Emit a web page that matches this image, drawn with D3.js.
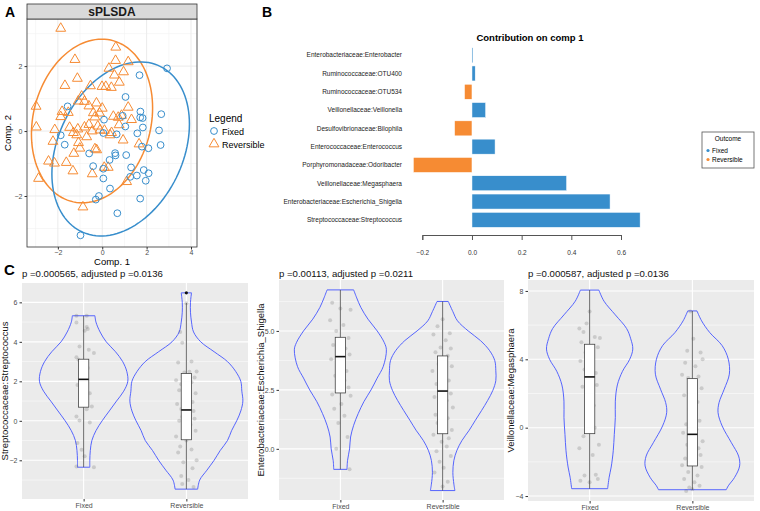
<!DOCTYPE html>
<html>
<head>
<meta charset="utf-8">
<script src="https://cdn.jsdelivr.net/npm/d3@7"></script>
<style>
  body { margin: 0; background: #fff; }
  svg { font-family: "Liberation Sans", Arial, sans-serif; }
</style>
</head>
<body>
<svg id="fig" width="760" height="511"></svg>
<script>
// ---------- data: panel A (sPLSDA scores) ----------
const scoresFixed = [
  [2.92, 1.93], [1.68, 1.72], [1.05, 1.05], [-1.56, 0.76], [1.72, 0.60], [2.66, 0.52],
  [0.08, 0.35], [0.92, 0.47], [1.71, 0.42], [1.82, 0.40], [1.04, 0.14], [1.83, 0.11],
  [2.56, 0.02], [-1.87, -0.13], [0.05, -0.06], [0.65, -0.10], [1.58, -0.07], [-1.69, -0.42],
  [1.79, -0.48], [2.08, -0.53], [2.63, -0.43], [-0.59, -0.69], [0.58, -0.68], [0.60, -0.75],
  [1.08, -0.74], [0.33, -0.89], [-0.41, -1.08], [0.05, -1.16], [1.30, -1.12], [1.87, -1.20],
  [2.09, -1.30], [1.56, -1.37], [1.26, -1.41], [1.96, -1.53], [0.05, -1.46], [0.35, -1.77],
  [-0.15, -2.0], [-0.29, -2.11], [1.71, -2.08], [0.68, -2.53], [-0.98, -3.21]
];
const scoresReversible = [
  [-1.87, 3.16], [0.61, 2.58], [-1.23, 2.20], [0.60, 2.17], [1.17, 2.13], [0.30, 1.93],
  [0.96, 1.82], [-1.12, 1.62], [0.55, 1.72], [0.77, 1.50], [-1.68, 1.40], [-0.53, 1.39],
  [-0.01, 1.37], [0.16, 1.37], [0.41, 1.34], [-0.93, 1.07], [-1.08, 0.92], [-0.80, 0.91],
  [-0.26, 0.86], [-0.60, 0.77], [-2.98, 0.76], [1.17, 0.73], [-0.40, 0.56], [-1.81, 0.60],
  [-1.53, 0.57], [-0.33, 0.43], [0.72, 0.42], [0.87, 0.48], [1.32, 0.35], [-1.87, 0.44],
  [-2.97, 0.12], [-1.47, 0.11], [-1.10, 0.06], [-0.80, 0.12], [-2.14, 0.04], [-0.20, 0.15],
  [0.10, 0.02], [0.76, 0.19], [0.42, -0.05], [-0.10, 0.03], [-0.45, 0.00], [-2.22, -0.32],
  [-1.15, -0.12], [-0.70, -0.18], [0.35, -0.12], [0.94, -0.28], [-1.07, -0.36], [-1.01, -0.53],
  [-0.33, -0.55], [-0.25, -0.58], [-1.28, -0.69], [1.66, -0.40], [-2.42, -0.93], [-2.15, -0.99],
  [-1.62, -0.97], [-1.32, -1.23], [-0.45, -1.32], [0.09, -1.12], [0.27, -1.12], [-2.87, -1.46],
  [1.10, -1.56], [-0.87, -2.34], [-0.60, 0.20], [-1.30, -0.05], [0.50, 0.45], [0.00, 0.70],
  [-0.12, 0.55]
];
// confidence ellipses: centre x, centre y, var x, cov xy, var y
const ellipseFixed = [0.83, -0.55, 9.6, 2.38, 7.18];
const ellipseReversible = [-0.46, 0.31, 7.45, 1.1, 6.35];
const ticksA = [-2, 0, 2, 4];
const ticksAy = [-2, 0, 2];

// ---------- data: panel B (loadings) ----------
const taxa = [
  'Enterobacteriaceae:Enterobacter', 'Ruminococcaceae:OTU400', 'Ruminococcaceae:OTU534',
  'Veillonellaceae:Veillonella', 'Desulfovibrionaceae:Bilophila', 'Enterococcaceae:Enterococcus',
  'Porphyromonadaceae:Odoribacter', 'Veillonellaceae:Megasphaera',
  'Enterobacteriaceae:Escherichia_Shigella', 'Streptococcaceae:Streptococcus'
];
const loadings = [0.004, 0.013, -0.03, 0.055, -0.07, 0.093, -0.236, 0.381, 0.556, 0.677];
const loadingGroup = ['Fixed', 'Fixed', 'Reversible', 'Fixed', 'Reversible', 'Fixed',
  'Reversible', 'Fixed', 'Fixed', 'Fixed'];
const ticksB = [-0.2, 0, 0.2, 0.4, 0.6];

// ---------- data: panel C (violins) ----------
const groups = ['Fixed', 'Reversible'];
const violinTitles = [
  'p =0.000565, adjusted p =0.0136',
  'p =0.00113, adjusted p =0.0211',
  'p =0.000587, adjusted p =0.0136'
];
const violinYLabels = [
  'Streptococcaceae:Streptococcus',
  'Enterobacteriaceae:Escherichia_Shigella',
  'Veillonellaceae:Megasphaera'
];
// density outline: [value, half width in category units]
const strepFixedShape = [[-2.35, 0.06], [-2, 0.06], [-1.5, 0.065], [-1, 0.08], [-0.5, 0.12], [0, 0.18],
  [0.5, 0.25], [1, 0.32], [1.5, 0.39], [2, 0.43], [2.5, 0.42], [3, 0.38], [3.5, 0.31], [4, 0.22],
  [4.5, 0.16], [5, 0.12], [5.32, 0.11]];
const strepRevShape = [[-3.46, 0.11], [-3, 0.13], [-2.5, 0.2], [-2, 0.27], [-1.5, 0.33], [-1, 0.4],
  [-0.5, 0.44], [0, 0.49], [0.5, 0.53], [1, 0.55], [1.5, 0.54], [2, 0.53], [2.5, 0.48], [3, 0.4],
  [3.5, 0.27], [4, 0.14], [4.5, 0.07], [5, 0.05], [5.5, 0.04], [6, 0.04], [6.48, 0.05]];
const escFixedShape = [[-0.87, 0.065], [-0.5, 0.07], [0, 0.09], [0.5, 0.1], [1, 0.13], [1.5, 0.175],
  [2, 0.23], [2.5, 0.3], [3, 0.36], [3.5, 0.42], [4.2, 0.45], [4.5, 0.43], [5, 0.36], [5.5, 0.27],
  [6, 0.2], [6.4, 0.16], [6.74, 0.13]];
const escRevShape = [[-1.77, 0.12], [-1.5, 0.11], [-1, 0.1], [-0.49, 0.11], [-0.06, 0.14], [0.36, 0.19],
  [0.79, 0.26], [1.21, 0.32], [1.62, 0.38], [2.05, 0.44], [2.47, 0.49], [2.89, 0.52], [3.31, 0.52],
  [3.74, 0.51], [4.16, 0.46], [4.59, 0.37], [5, 0.25], [5.43, 0.145], [5.82, 0.1], [6.25, 0.055]];
const megFixedShape = [[-3.57, 0.175], [-2.9, 0.19], [-2.3, 0.21], [-1.35, 0.23], [-0.4, 0.24],
  [0.6, 0.25], [1.55, 0.25], [2.5, 0.27], [3.3, 0.32], [4, 0.39], [4.6, 0.42], [5.2, 0.4],
  [5.8, 0.36], [6.6, 0.25], [7.4, 0.14], [8.05, 0.09]];
const megRevShape = [[-3.63, 0.33], [-3.4, 0.35], [-2.92, 0.41], [-2.24, 0.46], [-1.66, 0.45],
  [-0.88, 0.38], [0.1, 0.29], [0.88, 0.25], [1.47, 0.26], [2.25, 0.31], [3.13, 0.36], [4, 0.35],
  [4.8, 0.29], [5.56, 0.17], [6.25, 0.09], [6.83, 0.045]];
// boxplot stats: [lower whisker, q1, median, q3, upper whisker]
const strepBox = [[-2.35, 0.69, 2.1, 3.12, 5.32], [-3.46, -0.96, 0.55, 2.4, 5.97]];
const escBox = [[-0.87, 2.37, 3.91, 4.73, 6.74], [-1.77, 0.64, 2.45, 3.94, 6.25]];
const megBox = [[-3.57, -0.35, 2.97, 4.88, 8.05], [-3.63, -2.24, -0.39, 2.87, 6.83]];
const strepOutliers = [[], [6.48]];
const escOutliers = [[], []];
const megOutliers = [[], []];
// jittered observations: [offset in category units, value]
const strepFixedPts = [[-0.07, 5.32], [0.03, 5.32], [-0.07, 4.98], [0.03, 4.75], [0.04, 4.65], [0.01, 4.56],
  [0.10, 3.43], [-0.07, 3.22], [-0.05, 3.09], [-0.01, 2.96], [0.04, 2.67], [-0.03, 2.33], [0.03, 2.16],
  [-0.01, 1.91], [-0.06, 1.82], [0.06, 1.40], [0, 1.15], [-0.03, 0.9], [0.08, 0.73], [0.03, 0.59],
  [-0.07, 0.22], [-0.04, 0.02], [0.06, -0.08], [-0.06, -1.13], [-0.02, -1.47], [0.01, -1.8],
  [-0.07, -2.31], [0.10, -2.35], [0.05, 3.6], [-0.04, 3.77], [0, 2.75]];
const strepRevPts = [[0.00, 5.96], [-0.06, 4.5], [-0.04, 3.95], [0.05, 3.0], [-0.08, 2.95], [0.1, 2.5],
  [0.03, 2.48], [-0.02, 2.45], [0.08, 2.2], [-0.1, 2.05], [0.05, 1.95], [-0.05, 1.85], [0.02, 1.6],
  [-0.07, 1.55], [0.09, 1.4], [0.0, 1.3], [-0.03, 1.1], [0.06, 0.95], [-0.09, 0.85], [0.03, 0.7],
  [-0.05, 0.6], [0.07, 0.5], [0.01, 0.35], [-0.04, 0.2], [0.08, 0.1], [-0.07, 0.0], [0.04, -0.2],
  [-0.02, -0.3], [0.09, -0.5], [-0.1, -0.8], [0.0, -1.0], [-0.06, -1.3], [0.05, -1.45], [-0.08, -1.6],
  [0.1, -2.0], [-0.03, -2.1], [0.06, -2.4], [-0.05, -2.8], [0.02, -3.0], [-0.04, -3.2], [0.07, -3.35]];
const escFixedPts = [[-0.08, 6.2], [0.0, 5.95], [0.1, 5.9], [-0.1, 5.45], [0.03, 5.25], [-0.04, 5.0],
  [0.08, 4.7], [-0.07, 4.4], [0.05, 4.25], [-0.02, 4.1], [0.09, 4.0], [-0.09, 3.8], [0.02, 3.6],
  [0.06, 3.3], [-0.05, 3.1], [0.04, 2.9], [-0.03, 2.75], [0.08, 2.6], [-0.08, 2.3], [0.1, 2.25],
  [0.01, 1.9], [-0.06, 1.7], [0.04, 1.4], [-0.02, 1.1], [0.07, 0.5], [-0.04, 0.0], [0.09, -0.87]];
const escRevPts = [[0.0, 5.5], [-0.05, 5.2], [0.07, 4.9], [-0.09, 4.85], [0.03, 4.6], [-0.02, 4.3],
  [0.08, 4.25], [-0.07, 4.1], [0.05, 3.95], [0.0, 3.8], [-0.04, 3.6], [0.09, 3.5], [-0.1, 3.3],
  [0.02, 3.1], [0.06, 2.9], [-0.06, 2.75], [0.03, 2.6], [-0.02, 2.45], [0.08, 2.35], [-0.08, 2.2],
  [0.04, 2.05], [-0.03, 1.9], [0.1, 1.75], [0.0, 1.6], [-0.07, 1.45], [0.05, 1.3], [-0.05, 1.1],
  [0.02, 0.95], [0.09, 0.8], [-0.09, 0.6], [0.06, 0.45], [-0.01, 0.3], [0.04, 0.1], [-0.06, -0.1],
  [0.08, -0.3], [-0.03, -0.55], [0.01, -0.8], [-0.08, -1.0], [0.05, -1.4], [0.0, -1.6]];
const megFixedPts = [[0.0, 6.8], [-0.03, 6.1], [-0.1, 5.8], [-0.06, 5.6], [0.05, 5.3], [0.1, 5.25],
  [-0.08, 5.0], [0.03, 4.8], [0.08, 4.7], [-0.04, 4.4], [-0.09, 3.9], [0.02, 3.8], [-0.05, 3.4],
  [0.06, 3.2], [-0.02, 2.6], [0.07, 2.5], [-0.07, 2.4], [0.04, 1.3], [-0.03, 0.4], [0.05, 0.0],
  [-0.01, -0.05], [-0.06, -0.5], [0.09, -1.0], [-0.1, -1.2], [0.03, -1.6], [-0.05, -2.8],
  [0.06, -2.75], [0.08, -3.0], [-0.09, -3.1], [0.0, -3.2]];
const megRevPts = [[-0.02, 6.8], [0.01, 5.2], [-0.05, 4.5], [0.08, 4.4], [0.1, 4.0], [-0.07, 3.8],
  [0.03, 3.6], [-0.1, 3.1], [0.06, 3.0], [-0.04, 2.9], [0.02, 2.6], [0.09, 2.3], [-0.08, 1.9],
  [0.05, 1.5], [-0.03, 1.1], [0.0, 0.8], [0.07, 0.4], [-0.06, 0.2], [0.04, -0.1], [-0.09, -0.3],
  [0.01, -0.6], [0.1, -0.8], [-0.05, -1.0], [0.06, -1.2], [-0.02, -1.4], [0.08, -1.6], [-0.07, -1.8],
  [0.03, -2.0], [-0.1, -2.2], [0.09, -2.3], [-0.04, -2.6], [0.05, -2.8], [-0.08, -3.0], [0.02, -3.2],
  [0.07, -3.4], [-0.03, -3.5], [0.0, -3.6], [-0.06, -3.7]];
const violinTicks = [[-2, 0, 2, 4, 6], [0, 2.5, 5], [-4, 0, 4, 8]];
const violinMinor = [[-3, -1, 1, 3, 5], [-1.25, 1.25, 3.75, 6.25], [-2, 2, 6]];

const blue = '#388ECC', orange = '#F68B33';
const svg = d3.select('#fig');

// ================= Panel A =================
const xA = d3.scaleLinear().domain([-3.39, 4.27]).range([27, 197]);
const yA = d3.scaleLinear().domain([-3.57, 3.45]).range([247, 19]);
const gA = svg.append('g');

gA.append('rect').attr('x', 27).attr('y', 19).attr('width', 170).attr('height', 228).attr('fill', '#fff');
// grid
[-3, -1, 1, 3].forEach(v => gA.append('line').attr('x1', xA(v)).attr('x2', xA(v)).attr('y1', 19).attr('y2', 247)
  .attr('stroke', '#F2F2F2').attr('stroke-width', 0.6));
[-3, -1, 1, 3].forEach(v => gA.append('line').attr('y1', yA(v)).attr('y2', yA(v)).attr('x1', 27).attr('x2', 197)
  .attr('stroke', '#F2F2F2').attr('stroke-width', 0.6));
ticksA.forEach(v => gA.append('line').attr('x1', xA(v)).attr('x2', xA(v)).attr('y1', 19).attr('y2', 247)
  .attr('stroke', '#EBEBEB').attr('stroke-width', 1));
ticksAy.forEach(v => gA.append('line').attr('y1', yA(v)).attr('y2', yA(v)).attr('x1', 27).attr('x2', 197)
  .attr('stroke', '#EBEBEB').attr('stroke-width', 1));

// ellipses
function ellipsePath(e) {
  const l11 = Math.sqrt(e[2]), l21 = e[3] / l11, l22 = Math.sqrt(e[4] - l21 * l21);
  const pts = d3.range(0, 2 * Math.PI + 0.01, Math.PI / 60).map(t =>
    [xA(e[0] + l11 * Math.cos(t)), yA(e[1] + l21 * Math.cos(t) + l22 * Math.sin(t))]);
  return d3.line()(pts);
}
gA.append('path').attr('d', ellipsePath(ellipseReversible)).attr('fill', 'none')
  .attr('stroke', orange).attr('stroke-width', 1.5);
gA.append('path').attr('d', ellipsePath(ellipseFixed)).attr('fill', 'none')
  .attr('stroke', blue).attr('stroke-width', 1.5);

// points
const tri = d3.symbol().type(d3.symbolTriangle).size(42);
gA.selectAll('.rev').data(scoresReversible).enter().append('path')
  .attr('d', tri).attr('transform', d => `translate(${xA(d[0])},${yA(d[1])})`)
  .attr('fill', 'none').attr('stroke', orange).attr('stroke-width', 1);
gA.selectAll('.fix').data(scoresFixed).enter().append('circle')
  .attr('cx', d => xA(d[0])).attr('cy', d => yA(d[1])).attr('r', 3.4)
  .attr('fill', 'none').attr('stroke', blue).attr('stroke-width', 1);

gA.append('rect').attr('x', 27).attr('y', 19).attr('width', 170).attr('height', 228)
  .attr('fill', 'none').attr('stroke', '#333').attr('stroke-width', 0.8);
// strip
gA.append('rect').attr('x', 27).attr('y', 4).attr('width', 170).attr('height', 15)
  .attr('fill', '#D9D9D9').attr('stroke', '#333').attr('stroke-width', 0.8);
gA.append('text').attr('x', 112).attr('y', 16).attr('text-anchor', 'middle')
  .attr('font-size', 12).attr('font-weight', 'bold').attr('fill', '#1A1A1A').text('sPLSDA');

// axes
gA.append('g').attr('transform', 'translate(0,247)')
  .call(d3.axisBottom(xA).tickValues(ticksA).tickSize(2.5).tickPadding(1).tickFormat(d3.format('d')))
  .call(g => g.select('.domain').remove())
  .call(g => g.selectAll('line').attr('stroke', '#333'))
  .call(g => g.selectAll('text').attr('font-size', 7).attr('fill', '#4D4D4D').attr('font-family', 'Liberation Sans'));
gA.append('g').attr('transform', 'translate(27,0)')
  .call(d3.axisLeft(yA).tickValues(ticksAy).tickSize(2.5).tickPadding(2).tickFormat(d3.format('d')))
  .call(g => g.select('.domain').remove())
  .call(g => g.selectAll('line').attr('stroke', '#333'))
  .call(g => g.selectAll('text').attr('font-size', 7).attr('fill', '#4D4D4D').attr('font-family', 'Liberation Sans'));
gA.append('text').attr('x', 112).attr('y', 265).attr('text-anchor', 'middle').attr('font-size', 9.5).text('Comp. 1');
gA.append('text').attr('transform', 'translate(11,133) rotate(-90)').attr('text-anchor', 'middle')
  .attr('font-size', 9.5).text('Comp. 2');

// legend A
gA.append('text').attr('x', 209).attr('y', 122).attr('font-size', 10).text('Legend');
gA.append('circle').attr('cx', 214).attr('cy', 131).attr('r', 3.4).attr('fill', 'none').attr('stroke', blue);
gA.append('path').attr('d', tri).attr('transform', 'translate(214,144)').attr('fill', 'none').attr('stroke', orange);
gA.append('text').attr('x', 222).attr('y', 134.5).attr('font-size', 9).text('Fixed');
gA.append('text').attr('x', 222).attr('y', 147.5).attr('font-size', 9).text('Reversible');

svg.append('text').attr('x', 5).attr('y', 17).attr('font-size', 14).attr('font-weight', 'bold').text('A');

// ================= Panel B =================
const xB = d3.scaleLinear().domain([-0.2, 0.6]).range([422.3, 621]);
const yB = d3.scaleBand().domain(taxa).range([46, 229]).paddingInner(0.18).paddingOuter(0.09);
const gB = svg.append('g');

gB.selectAll('.bar').data(taxa).enter().append('rect')
  .attr('x', (d, i) => xB(Math.min(0, loadings[i])))
  .attr('y', d => yB(d))
  .attr('width', (d, i) => Math.abs(xB(loadings[i]) - xB(0)))
  .attr('height', yB.bandwidth())
  .attr('fill', (d, i) => loadingGroup[i] === 'Fixed' ? blue : orange)
  .attr('stroke', '#fff').attr('stroke-width', 0.5);

gB.selectAll('.lab').data(taxa).enter().append('text')
  .attr('x', 402).attr('y', d => yB(d) + yB.bandwidth() / 2 + 2.3)
  .attr('text-anchor', 'end').attr('font-size', 6.5).attr('fill', '#222').text(d => d);

gB.append('g').attr('transform', 'translate(0,235)')
  .call(d3.axisBottom(xB).tickValues(ticksB).tickSize(5).tickPadding(10).tickFormat(d3.format('.1f')))
  .call(g => g.select('.domain').attr('stroke', '#555'))
  .call(g => g.selectAll('line').attr('stroke', '#555'))
  .call(g => g.selectAll('text').attr('font-size', 6.5).attr('fill', '#333').attr('font-family', 'Liberation Sans'));

gB.append('text').attr('x', 530).attr('y', 41).attr('text-anchor', 'middle').attr('font-size', 9.5)
  .attr('font-weight', 'bold').text('Contribution on comp 1');

// legend B
gB.append('rect').attr('x', 702).attr('y', 132).attr('width', 52).attr('height', 36)
  .attr('fill', '#fff').attr('stroke', '#555').attr('stroke-width', 0.8);
gB.append('text').attr('x', 728).attr('y', 141).attr('text-anchor', 'middle').attr('font-size', 6.5).text('Outcome');
[['Fixed', blue, 150.5], ['Reversible', orange, 159.5]].forEach(([t, c, y]) => {
  gB.append('circle').attr('cx', 708).attr('cy', y).attr('r', 1.6).attr('fill', c);
  gB.append('text').attr('x', 712).attr('y', y + 2.3).attr('font-size', 6.5).text(t);
});

svg.append('text').attr('x', 262).attr('y', 17).attr('font-size', 14).attr('font-weight', 'bold').text('B');

// ================= Panel C =================
const violinPanels = [
  { x: [22, 248], y: [-3.96, 6.98], ybox: [499, 283], shapes: [strepFixedShape, strepRevShape],
    box: strepBox, out: strepOutliers, pts: [strepFixedPts, strepRevPts], fmt: d3.format('d'), lx: 8 },
  { x: [279, 504], y: [-2.17, 7.16], ybox: [500, 280], shapes: [escFixedShape, escRevShape],
    box: escBox, out: escOutliers, pts: [escFixedPts, escRevPts], fmt: d3.format('.1f'), lx: 264 },
  { x: [528, 754], y: [-4.29, 8.64], ybox: [501, 280], shapes: [megFixedShape, megRevShape],
    box: megBox, out: megOutliers, pts: [megFixedPts, megRevPts], fmt: d3.format('d'), lx: 514 }
];

violinPanels.forEach((p, k) => {
  const g = svg.append('g');
  const x = d3.scalePoint().domain(groups).range(p.x).padding(0.6);
  const step = x.step();
  const y = d3.scaleLinear().domain(p.y).range(p.ybox);
  const top = p.ybox[1], bot = p.ybox[0];

  g.append('rect').attr('x', p.x[0]).attr('y', top).attr('width', p.x[1] - p.x[0]).attr('height', bot - top)
    .attr('fill', '#EBEBEB');
  violinMinor[k].forEach(v => g.append('line').attr('x1', p.x[0]).attr('x2', p.x[1])
    .attr('y1', y(v)).attr('y2', y(v)).attr('stroke', '#fff').attr('stroke-width', 0.5));
  violinTicks[k].forEach(v => g.append('line').attr('x1', p.x[0]).attr('x2', p.x[1])
    .attr('y1', y(v)).attr('y2', y(v)).attr('stroke', '#fff').attr('stroke-width', 1.1));
  groups.forEach(c => g.append('line').attr('x1', x(c)).attr('x2', x(c))
    .attr('y1', top).attr('y2', bot).attr('stroke', '#fff').attr('stroke-width', 1.1));

  groups.forEach((c, j) => {
    const cx = x(c);
    // violin
    const area = d3.area()
      .y(d => y(d[0])).x0(d => cx - d[1] * step).x1(d => cx + d[1] * step)
      .curve(d3.curveCatmullRom);
    g.append('path').attr('d', area(p.shapes[j])).attr('fill', 'none')
      .attr('stroke', '#4455FF').attr('stroke-width', 0.9);
    // jittered points
    g.selectAll('.pt' + j).data(p.pts[j]).enter().append('circle')
      .attr('cx', d => cx + d[0] * step).attr('cy', d => y(d[1])).attr('r', 2)
      .attr('fill', '#555').attr('fill-opacity', 0.22);
    // box
    const b = p.box[j];
    const bw = 0.1 * step;
    g.append('line').attr('x1', cx).attr('x2', cx).attr('y1', y(b[0])).attr('y2', y(b[4]))
      .attr('stroke', '#444').attr('stroke-width', 0.8);
    g.append('rect').attr('x', cx - bw / 2).attr('width', bw).attr('y', y(b[3]))
      .attr('height', y(b[1]) - y(b[3])).attr('fill', '#fff').attr('stroke', '#444').attr('stroke-width', 0.8);
    g.append('line').attr('x1', cx - bw / 2).attr('x2', cx + bw / 2).attr('y1', y(b[2])).attr('y2', y(b[2]))
      .attr('stroke', '#111').attr('stroke-width', 1.6);
    p.out[j].forEach(v => g.append('circle').attr('cx', cx).attr('cy', y(v)).attr('r', 1.6).attr('fill', '#111'));
  });

  g.append('g').attr('transform', `translate(${p.x[0]},0)`)
    .call(d3.axisLeft(y).tickValues(violinTicks[k]).tickSize(2.5).tickPadding(2).tickFormat(p.fmt))
    .call(a => a.select('.domain').remove())
    .call(a => a.selectAll('line').attr('stroke', '#333'))
    .call(a => a.selectAll('text').attr('font-size', 7).attr('fill', '#4D4D4D').attr('font-family', 'Liberation Sans'));
  g.append('g').attr('transform', `translate(0,${bot})`)
    .call(d3.axisBottom(x).tickSize(2.5).tickPadding(2))
    .call(a => a.select('.domain').remove())
    .call(a => a.selectAll('line').attr('stroke', '#333'))
    .call(a => a.selectAll('text').attr('font-size', 7).attr('fill', '#4D4D4D').attr('font-family', 'Liberation Sans'));

  g.append('text').attr('x', p.x[0]).attr('y', 277).attr('font-size', 9.6).attr('fill', '#111')
    .text(violinTitles[k]);
  g.append('text').attr('transform', `translate(${p.lx},${(top + bot) / 2}) rotate(-90)`)
    .attr('text-anchor', 'middle').attr('font-size', 9.5).attr('fill', '#111').text(violinYLabels[k]);
});

svg.append('text').attr('x', 4).attr('y', 275).attr('font-size', 15).attr('font-weight', 'bold').text('C');
</script>
</body>
</html>
